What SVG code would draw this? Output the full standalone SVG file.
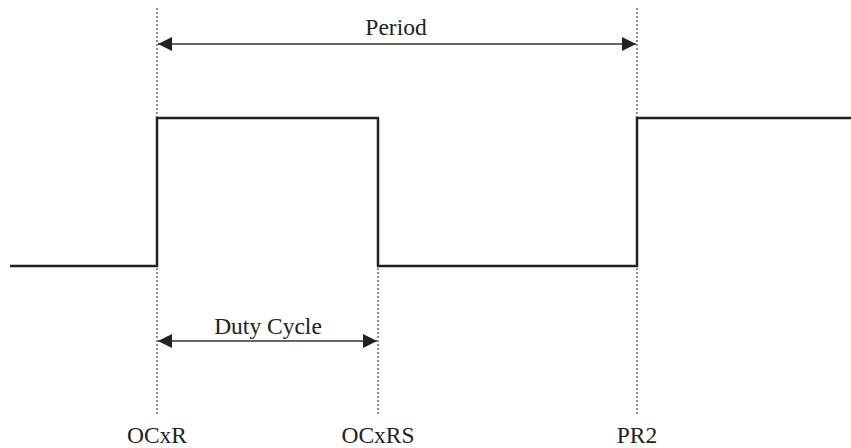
<svg xmlns="http://www.w3.org/2000/svg" width="851" height="448" viewBox="0 0 851 448">
<style>
.guide{stroke:#444;stroke-width:1.2;stroke-dasharray:2,2;fill:none}
.wave{stroke:#222;stroke-width:2.5;fill:none}
.dim{stroke:#333;stroke-width:1.6;fill:none}
text{font-family:"Liberation Serif","Times New Roman",serif;font-size:23.5px;fill:#222;text-anchor:middle}
</style>
<defs>
<marker id="ah" viewBox="0 0 10 10" refX="10" refY="5" markerWidth="19" markerHeight="14" markerUnits="userSpaceOnUse" orient="auto-start-reverse">
<path d="M0,0 L10,5 L0,10 z" fill="#222"/>
</marker>
</defs>
<g id="guides">
<line class="guide" x1="157" y1="8" x2="157" y2="415"/>
<line class="guide" x1="378" y1="268" x2="378" y2="415"/>
<line class="guide" x1="637" y1="8" x2="637" y2="415"/>
</g>
<g id="waveform">
<path class="wave" d="M10,266 H157 V118 H378 V266 H637 V118 H851"/>
</g>
<g id="connectors">
<line class="dim" x1="158" y1="44" x2="636" y2="44" marker-start="url(#ah)" marker-end="url(#ah)"/>
<line class="dim" x1="158" y1="341" x2="377" y2="341" marker-start="url(#ah)" marker-end="url(#ah)"/>
</g>
<g id="labels">
<text x="396" y="35">Period</text>
<text x="268" y="334">Duty Cycle</text>
<text x="157" y="443">OCxR</text>
<text x="378" y="443">OCxRS</text>
<text x="637" y="443">PR2</text>
</g>
</svg>
